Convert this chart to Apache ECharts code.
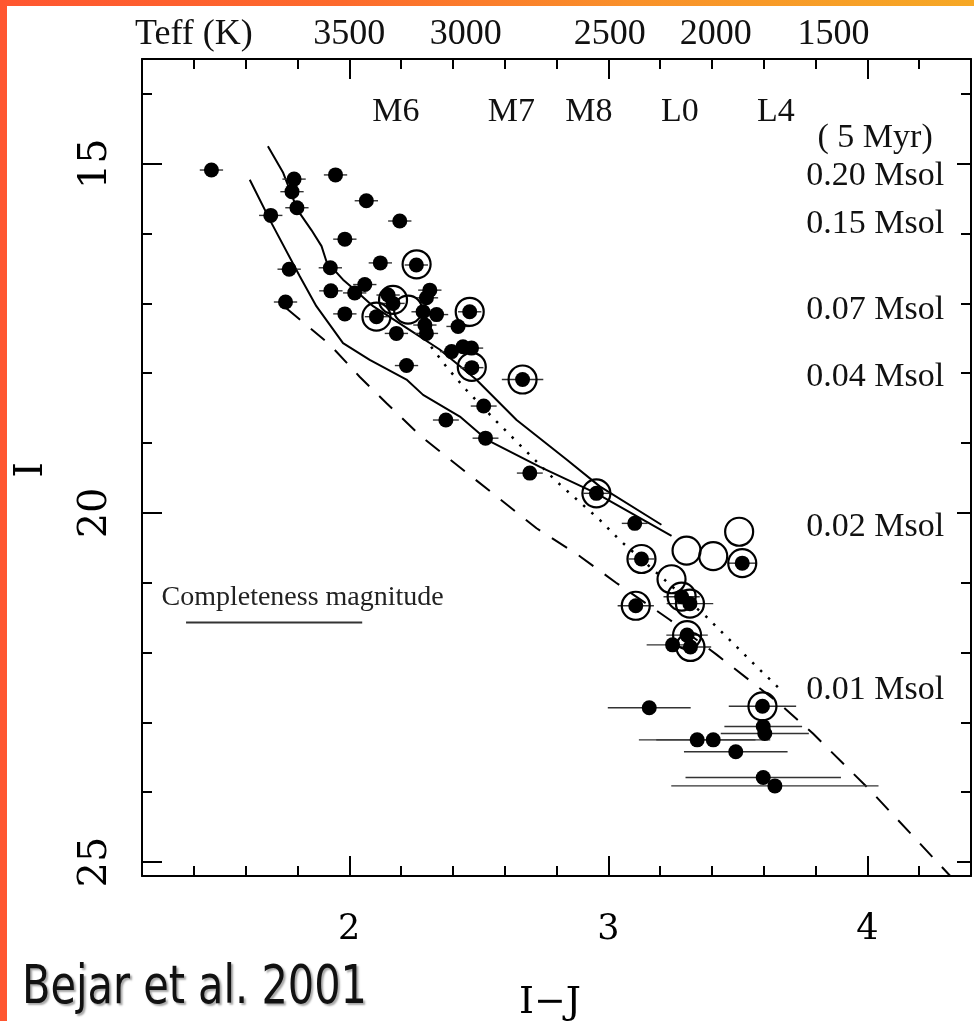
<!DOCTYPE html>
<html><head><meta charset="utf-8">
<script src="https://cdn.jsdelivr.net/npm/echarts@6/dist/echarts.min.js"></script>
<style>
html,body{margin:0;padding:0;}
body{width:974px;height:1021px;position:relative;overflow:hidden;background:linear-gradient(90deg,#ff5630 0%,#fd6a2c 35%,#f9912a 65%,#f6a825 100%);}
#paper{position:absolute;left:7px;top:6px;right:0;bottom:0;background:#fff;}
#chart{position:absolute;left:0;top:0;width:974px;height:1021px;}
</style></head><body><div id="paper"></div><div id="chart"></div>
<script>
// ---- axis ticks / labels ----
const xMajor = [2, 3, 4];
const yMinor = [14, 15, 16, 17, 18, 19, 20, 21, 22, 23, 24, 25];
const yMajor = [15, 20, 25];
const teffLabels = ['Teff (K)', '3500', '3000', '2500', '2000', '1500'];
const teffIJ = [1.40, 2.0, 2.45, 3.006, 3.415, 3.869];
const spectralTypes = ['M6', 'M7', 'M8', 'L0', 'L4'];
const spectralIJ = [2.18, 2.626, 2.925, 3.276, 3.647];
const massLabels = ['( 5 Myr)', '0.20 Msol', '0.15 Msol', '0.07 Msol', '0.04 Msol', '0.02 Msol', '0.01 Msol'];
const massI = [14.63, 15.17, 15.86, 17.09, 18.05, 20.20, 22.54];

// ---- data: [I-J, I, error in I-J] ----
const members = [
 [1.468,15.09,0.045],[1.787,15.22,0.045],[1.779,15.40,0.045],[1.798,15.63,0.045],[1.947,15.16,0.045],
 [2.066,15.53,0.045],[2.195,15.82,0.045],[1.697,15.74,0.045],[1.983,16.08,0.045],[1.768,16.51,0.045],
 [1.927,16.49,0.045],[2.120,16.42,0.045],[2.259,16.45,0.045],[1.754,16.98,0.045],[1.929,16.82,0.045],
 [1.983,17.15,0.045],[2.060,16.73,0.045],[2.021,16.85,0.045],[2.150,16.88,0.045],[2.169,17.00,0.045],
 [2.105,17.19,0.045],[2.182,17.43,0.045],[2.311,16.81,0.045],[2.298,16.92,0.045],[2.285,17.12,0.045],
 [2.337,17.16,0.045],[2.292,17.31,0.045],[2.298,17.43,0.045],[2.465,17.12,0.045],[2.420,17.33,0.045],
 [2.395,17.69,0.045],[2.439,17.62,0.045],[2.472,17.64,0.045],[2.473,17.92,0.045],[2.221,17.89,0.045],
 [2.373,18.67,0.05],[2.519,18.47,0.05],[2.526,18.93,0.05],[2.669,18.09,0.08],[2.697,19.43,0.05],
 [2.954,19.72,0.05],[3.102,20.15,0.05],[3.128,20.66,0.05],[3.517,20.72,0.055],[3.283,21.20,0.07],
 [3.315,21.30,0.09],[3.106,21.33,0.07],[3.304,21.75,0.08],[3.248,21.89,0.10],[3.317,21.92,0.08],
 [3.158,22.79,0.16],[3.595,22.77,0.13],[3.598,23.06,0.15],[3.604,23.16,0.17],[3.343,23.25,0.225],
 [3.405,23.25,0.22],[3.492,23.42,0.20],[3.598,23.79,0.30],[3.643,23.91,0.40]
];
// circled objects (with or without filled dot)
const circled = [
 [2.26,16.44],[2.169,16.95],[2.105,17.19],[2.227,17.09],[2.465,17.12],[2.473,17.91],[2.669,18.09],
 [2.954,19.72],[3.128,20.66],[3.302,20.54],[3.405,20.62],[3.505,20.27],[3.517,20.72],[3.244,20.95],
 [3.283,21.20],[3.315,21.30],[3.106,21.33],[3.304,21.75],[3.317,21.92],[3.595,22.77]
];
// model curves
const isoUpper = [[1.686,14.75],[1.745,15.13],[1.80,15.66],[1.854,15.95],[1.893,16.18],[1.912,16.40],[1.976,16.66],
 [2.02,16.80],[2.092,17.04],[2.221,17.35],[2.349,17.66],[2.49,18.09],[2.646,18.67],[2.84,19.24],[2.967,19.62],[3.205,20.17]];
const isoLower = [[1.616,15.23],[1.70,15.85],[1.809,16.61],[1.873,17.04],[1.976,17.57],[2.079,17.81],[2.221,18.09],
 [2.285,18.31],[2.427,18.62],[2.53,18.95],[2.736,19.34],[2.954,19.72],[3.244,20.33]];
const dashedCurve = [[1.757,17.07],[1.925,17.59],[2.04,18.05],[2.144,18.43],[2.279,18.91],[2.723,20.22],[2.89,20.62],
 [3.03,21.0],[3.237,21.53],[3.418,22.03],[3.66,22.73],[3.79,23.16],[4.01,23.97],[4.32,25.2]];
const dottedCurve = [[2.316,17.62],[2.38,17.93],[2.452,18.24],[2.568,18.69],[2.80,19.55],[2.967,20.10],[3.044,20.39],
 [3.379,21.49],[3.572,22.20],[3.67,22.55]];
const completenessI = 21.57;
const completenessIJ = [1.37, 2.05];

const chart = echarts.init(document.getElementById('chart'), null, {renderer:'canvas'});
const black = '#000';
const serif = 'Liberation Serif';
const cm = 'DejaVu Serif';
const axLine = {show:true, onZero:false, lineStyle:{color:black, width:2}};
const base = {type:'value', splitLine:{show:false}};
const hidden = {color:'rgba(0,0,0,0)', opacity:1};

const option = {
  animation:false,
  backgroundColor:'transparent',
  grid:{left:142, top:59, width:829, height:817, containLabel:false},
  xAxis:[
    Object.assign({}, base, {position:'bottom', min:1.2, max:4.4, interval:0.2, axisLine:axLine,
      axisTick:{inside:true, length:10, lineStyle:{color:black,width:2}}, axisLabel:{show:false}}),
    Object.assign({}, base, {position:'bottom', min:1.2, max:4.4, axisLine:{show:false,onZero:false},
      axisTick:{inside:true, length:20, customValues:xMajor, lineStyle:{color:black,width:2}},
      axisLabel:{customValues:xMajor, formatter:v=>String(Math.round(v)), fontFamily:cm, fontSize:35, color:black, margin:54, verticalAlign:'middle'}}),
    Object.assign({}, base, {position:'top', min:1.2, max:4.4, interval:0.2, axisLine:axLine,
      axisTick:{inside:true, length:10, lineStyle:{color:black,width:2}}, axisLabel:{show:false}}),
    Object.assign({}, base, {position:'top', min:1.2, max:4.4, axisLine:{show:false,onZero:false},
      axisTick:{inside:true, length:20, customValues:xMajor, lineStyle:{color:black,width:2}},
      axisLabel:{customValues:teffIJ, formatter:v=>{const i=teffIJ.findIndex(p=>Math.abs(p-v)<1e-6);return i>=0?teffLabels[i]:'';},
        fontFamily:serif, fontSize:36, color:'#111', margin:24, verticalAlign:'middle'}})
  ],
  yAxis:[
    Object.assign({}, base, {position:'left', inverse:true, min:13.5, max:25.2, axisLine:axLine,
      axisTick:{inside:true, length:10, customValues:yMinor, lineStyle:{color:black,width:2}}, axisLabel:{show:false}}),
    Object.assign({}, base, {position:'left', inverse:true, min:13.5, max:25.2, axisLine:{show:false,onZero:false},
      axisTick:{inside:true, length:20, customValues:yMajor, lineStyle:{color:black,width:2}},
      axisLabel:{customValues:yMajor, formatter:v=>String(Math.round(v)), rotate:90, fontFamily:cm, fontSize:40, color:black,
        margin:46, align:'center', verticalAlign:'middle'}}),
    Object.assign({}, base, {position:'right', inverse:true, min:13.5, max:25.2, axisLine:axLine,
      axisTick:{inside:true, length:10, customValues:yMinor, lineStyle:{color:black,width:2}}, axisLabel:{show:false}}),
    Object.assign({}, base, {position:'right', inverse:true, min:13.5, max:25.2, axisLine:{show:false,onZero:false},
      axisTick:{inside:true, length:14, customValues:yMajor, lineStyle:{color:black,width:2}}, axisLabel:{show:false}})
  ],
  graphic:[
    {type:'text', left:12, top:462, rotation:Math.PI/2, style:{text:'I', font:'40px "DejaVu Serif"', fill:black}},
    {type:'text', left:519, top:984, style:{text:'I\u2212J', font:'38px "DejaVu Serif"', fill:black}},
    {type:'text', left:22, top:963, scaleX:0.87, style:{text:'Bejar et al. 2001', font:'53px "Liberation Sans Narrow", "DejaVu Sans Condensed", sans-serif',
      fill:'#111', textShadowColor:'rgba(0,0,0,0.35)', textShadowOffsetX:2, textShadowOffsetY:2, textShadowBlur:2}}
  ],
  series:[
    {type:'line', data:completenessIJ.map(x=>[x,completenessI]), showSymbol:false, lineStyle:{color:'#333',width:2}, silent:true, z:2},
    {type:'line', data:isoUpper, showSymbol:false, lineStyle:{color:black,width:2}, silent:true, z:2},
    {type:'line', data:isoLower, showSymbol:false, lineStyle:{color:black,width:2}, silent:true, z:2},
    {type:'line', data:dashedCurve, showSymbol:false, clip:true, lineStyle:{color:black,width:2,type:[18,14]}, silent:true, z:2},
    {type:'line', data:dottedCurve, showSymbol:false, lineStyle:{color:black,width:2.5,type:[2.5,8.5]}, silent:true, z:2},
    {type:'custom', data:members, encode:{x:0,y:1}, silent:true, z:3,
      renderItem:(params, api)=>{
        const x=api.value(0), y=api.value(1), e=api.value(2);
        const a=api.coord([x-e,y]), b=api.coord([x+e,y]);
        return {type:'line', shape:{x1:a[0],y1:a[1],x2:b[0],y2:b[1]}, style:{stroke:'#333', lineWidth:1.4}};
      }},
    {type:'scatter', data:members.map(d=>[d[0],d[1]]), symbol:'circle', symbolSize:15, itemStyle:{color:black, opacity:1}, silent:true, z:4},
    {type:'scatter', data:circled, symbol:'circle', symbolSize:28, itemStyle:{color:'rgba(0,0,0,0)', borderColor:black, borderWidth:2.2, opacity:1}, silent:true, z:5},
    {type:'scatter', data:spectralIJ.map((x,i)=>[x,14.26,spectralTypes[i]]), symbolSize:1, itemStyle:hidden, silent:true, z:6,
      label:{show:true, position:'inside', formatter:p=>p.data[2], fontFamily:serif, fontSize:34, color:'#111', opacity:1}},
    {type:'scatter', data:massI.map((y,i)=>[4.03,y,massLabels[i]]), symbolSize:1, itemStyle:hidden, silent:true, z:6,
      label:{show:true, position:'inside', formatter:p=>p.data[2], fontFamily:serif, fontSize:34, color:'#111', opacity:1}},
    {type:'scatter', data:[[1.82,21.22,'Completeness magnitude']], symbolSize:1, itemStyle:hidden, silent:true, z:6,
      label:{show:true, position:'inside', formatter:p=>p.data[2], fontFamily:serif, fontSize:28, color:'#222', opacity:1}}
  ]
};
chart.setOption(option);
</script></body></html>
